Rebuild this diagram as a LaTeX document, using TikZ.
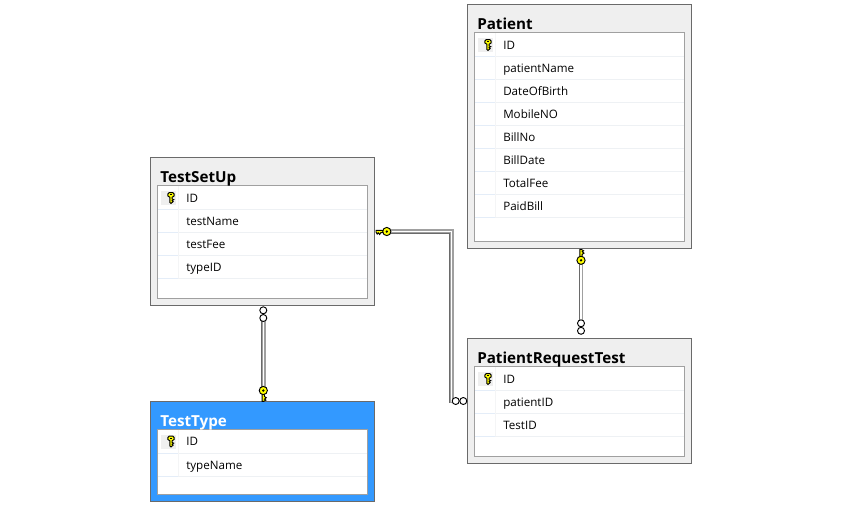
\documentclass[tikz,border=0pt]{standalone}
\usepackage{fontspec}
\setmainfont{Open Sans}
\definecolor{panel}{HTML}{EFEFEF}
\definecolor{edge}{HTML}{6A6A6A}
\definecolor{inner}{HTML}{A0A0A0}
\definecolor{rowline}{HTML}{EEF1F4}
\definecolor{rowblue}{HTML}{E4EDF8}
\definecolor{colline}{HTML}{F4F5F6}
\definecolor{selblue}{HTML}{3399FF}
\definecolor{keygold}{HTML}{FFFF00}
\definecolor{linkgray}{HTML}{A0A0A0}
\tikzset{x=0.75pt,y=-0.75pt,
 tablebox/.style={draw=edge,fill=panel,line width=0.9pt,rectangle,inner sep=0pt,outer sep=0pt,minimum width=168pt},
 tablesel/.style={tablebox,fill=selblue},
 gridbox/.style={draw=inner,fill=white,line width=1pt},
 rowrule/.style={draw=rowline,line width=0.75pt},
 rowtick/.style={draw=rowblue,line width=0.75pt},
 colrule/.style={draw=colline,line width=0.75pt},
 title/.style={anchor=base west,inner sep=0pt,font=\fontsize{11.4pt}{12pt}\selectfont\bfseries},
 field/.style={anchor=base west,inner sep=0pt,font=\fontsize{8.7pt}{10pt}\selectfont},
 linkbase/.style={draw=linkgray,line width=3.5pt,line join=miter},
 linkcore/.style={draw=white,line width=1pt,line join=miter},
 linkshade/.style={draw=edge,line width=0.75pt,line join=miter},
 linkout/.style={draw=black,fill=white,line width=0.7pt},
 keyfill/.style={draw=black,fill=keygold,line width=0.7pt}}
\newcommand{\keyup}[2]{%
 \begin{scope}[shift={(#1,#2)},scale=0.9]
  \draw[keyfill] (-2,-6) -- (2,-6) -- (3.4,-4.5) -- (3.4,-2.2) -- (1.2,-.8) -- (1.2,1) -- (3,1.8) -- (1.2,3) -- (2.4,4) -- (0,6) -- (-1.2,5) -- (-1.2,-.8) -- (-3.4,-2.2) -- (-3.4,-4.5) -- cycle;
  \fill[black] (-1.2,-4.2) rectangle (1.2,-3);
 \end{scope}}
% bow at the coordinate; local +y along the shank, local +x towards the teeth
\newcommand{\linkkey}[3]{%
 \begin{scope}[shift={(#1)}]\begin{scope}[x={#2},y={#3}]
  \draw[keyfill] (-1.2,3) -- (-1.2,10.8) -- (.5,10.8) -- (2.6,9.6) -- (1.2,8.6) -- (3,7.2) -- (1.2,6) -- (1.2,3) -- cycle;
  \draw[keyfill] (0,0) circle[radius=4.1];
  \fill[black] (0,0) circle[radius=1.3];
 \end{scope}\end{scope}}
\begin{document}
\begin{tikzpicture}
\useasboundingbox (0,0) rectangle (853,522);
\fill[white] (0,0) rectangle (853,522);
% TestSetUp
\node[tablebox,minimum height=111pt] (TestSetUp) at (262.5,231.5) {};
\draw[gridbox] (157.5,185.5) rectangle (367.5,298.5);
\foreach \y in {209.5,232.5,255.5,278.5} {\draw[rowrule] (178,\y) -- (367,\y); \draw[rowtick] (158,\y) -- (178,\y);}
\draw[colrule] (178.5,186) -- (178.5,278);
\fill[panel] (161,191) rectangle (176,205);
\keyup{171}{198}
\node[title] (ttsu) at (160,182) {TestSetUp};
\node[field] (a1) at (186,202) {ID};
\node[field] (a2) at (186,225) {testName};
\node[field] (a3) at (186,248) {testFee};
\node[field] (a4) at (186,271) {typeID};
% TestType
\node[tablesel,minimum height=75pt] (TestType) at (262.5,451.5) {};
\draw[gridbox] (157.5,429.5) rectangle (367.5,494.5);
\foreach \y in {453.5,476.5} {\draw[rowrule] (178,\y) -- (367,\y); \draw[rowtick] (158,\y) -- (178,\y);}
\draw[colrule] (178.5,430) -- (178.5,476);
\fill[panel] (161,435) rectangle (176,449);
\keyup{171}{441.5}
\node[title,text=white] (ttt) at (160,426) {TestType};
\node[field] (b1) at (186,445.5) {ID};
\node[field] (b2) at (186,469) {typeName};
% Patient
\node[tablebox,minimum height=183pt] (Patient) at (579.5,126.5) {};
\draw[gridbox] (474.5,32.5) rectangle (684.5,241.5);
\foreach \y in {56.5,79.5,102.5,125.5,148.5,171.5,194.5,217.5} {\draw[rowrule] (495,\y) -- (684,\y); \draw[rowtick] (475,\y) -- (495,\y);}
\draw[colrule] (495.5,33) -- (495.5,217);
\fill[panel] (478,38) rectangle (493,52);
\keyup{488}{45}
\node[title] (tp) at (477,29) {Patient};
\foreach \n/\t/\y in {c1/ID/49,c2/patientName/72,c3/DateOfBirth/95,c4/MobileNO/118,c5/BillNo/141,c6/BillDate/164,c7/TotalFee/187,c8/PaidBill/210}
  \node[field] (\n) at (503,\y) {\t};
% PatientRequestTest
\node[tablebox,minimum height=93.75pt] (Request) at (579.5,401) {};
\draw[gridbox] (474.5,366.5) rectangle (684.5,456.5);
\foreach \y in {390.5,413.5,436.5} {\draw[rowrule] (495,\y) -- (684,\y); \draw[rowtick] (475,\y) -- (495,\y);}
\draw[colrule] (495.5,367) -- (495.5,436);
\fill[panel] (478,372) rectangle (493,386);
\keyup{488}{379}
\node[title] (tr) at (477,363) {PatientRequestTest};
\foreach \n/\t/\y in {d1/ID/383,d2/patientID/406,d3/TestID/429}
  \node[field] (\n) at (503,\y) {\t};
% connector ends
\coordinate (bowA) at ([shift={(12.3,0)}]TestSetUp.east);
\coordinate (elbowA) at (451.3,231.5);
\coordinate (manyA) at ([shift={(-4.2,0)}]Request.west);
\coordinate (manyA2) at ([shift={(-11.8,0)}]Request.west);
\coordinate (linkAend) at ([shift={(-13,0)}]Request.west);
\coordinate (bowB) at ([shift={(0.8,-11)}]TestType.north);
\coordinate (manyB) at ([shift={(0.8,4.8)}]TestSetUp.south);
\coordinate (manyB2) at ([shift={(0.8,12.5)}]TestSetUp.south);
\coordinate (bowC) at ([shift={(1.5,11.8)}]Patient.south);
\coordinate (manyC) at ([shift={(1.5,-7.7)}]Request.north);
\coordinate (manyC2) at ([shift={(1.5,-15.2)}]Request.north);
% TestSetUp -- PatientRequestTest
\draw[linkbase] (bowA) -- (elbowA) -- (elbowA |- manyA) -- (linkAend);
\draw[linkcore] (bowA) -- (elbowA) -- (elbowA |- manyA) -- (linkAend);
\draw[linkshade,transform canvas={xshift=-1.2pt,yshift=-1.2pt}] (bowA) -- (elbowA) -- (elbowA |- manyA);
\linkkey{bowA}{(0pt,-0.75pt)}{(-0.75pt,0pt)}
\draw[linkout] (manyA) circle[radius=3.5];
\draw[linkout] (manyA2) circle[radius=3.5];
% TestSetUp -- TestType
\draw[linkbase] (manyB2) -- (bowB);
\draw[linkcore] (manyB2) -- (bowB);
\draw[linkshade,transform canvas={xshift=-1.2pt}] (manyB2) -- (bowB);
\linkkey{bowB}{(0.75pt,0pt)}{(0pt,-0.75pt)}
\draw[linkout] (manyB) circle[radius=3.5];
\draw[linkout] (manyB2) circle[radius=3.5];
% Patient -- PatientRequestTest
\draw[linkbase] (bowC) -- (manyC2);
\draw[linkcore] (bowC) -- (manyC2);
\draw[linkshade,transform canvas={xshift=-1.2pt}] (bowC) -- (manyC2);
\linkkey{bowC}{(0.75pt,0pt)}{(0pt,0.75pt)}
\draw[linkout] (manyC) circle[radius=3.5];
\draw[linkout] (manyC2) circle[radius=3.5];
\end{tikzpicture}
\end{document}
